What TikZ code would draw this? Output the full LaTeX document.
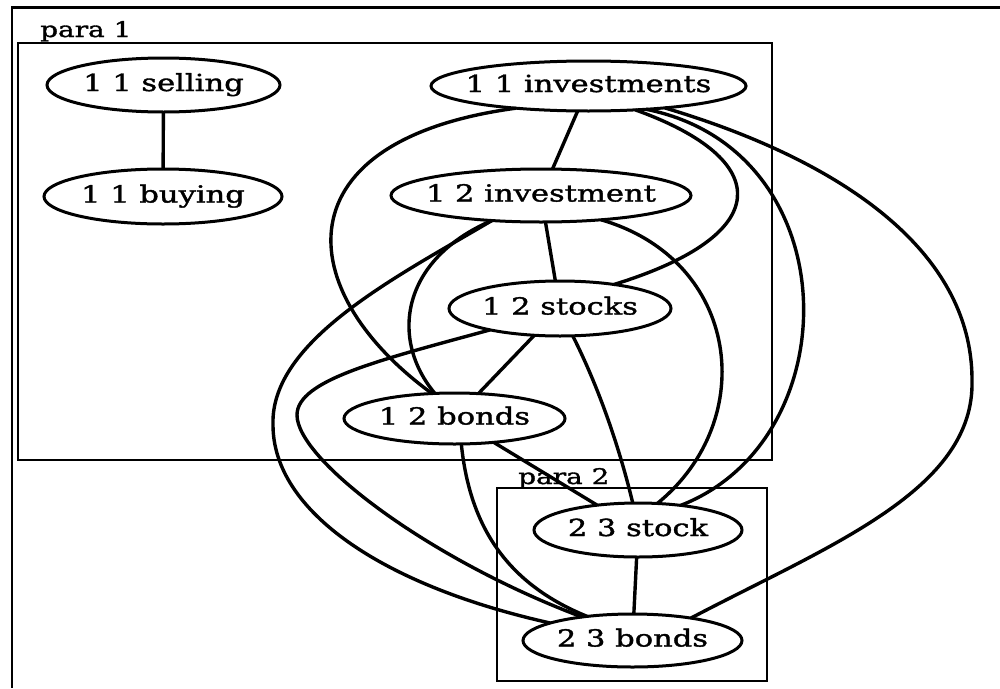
\documentclass[tikz,border=0pt]{standalone}
\usepackage{fontspec}
\usetikzlibrary{shapes.geometric}
\newfontfamily\graphfont[FakeStretch=1.3,FakeBold=1.5]{DejaVu Serif}
\newcommand\nodetext[1]{\makebox[0pt]{#1}}

\begin{document}
\begin{tikzpicture}[x=1pt,y=-1pt,
  vtx/.style={ellipse, draw, line width=3pt, inner sep=0pt, outer sep=0pt,
    text height=17pt, text depth=5pt,
    font=\graphfont\fontsize{23.5}{28}\selectfont},
  link/.style={line width=3.4pt},
  cluster/.style={draw, line width=2.5pt},
  clabel/.style={anchor=base west, inner sep=0pt,
    font=\graphfont\fontsize{21.5}{26}\selectfont}]
\useasboundingbox (0,0) rectangle (1000,688);

% page frame
\draw[line width=2.2pt] (1000,7.5) -- (12,7.5) -- (12,688);

% clusters
\draw[cluster] (18,43) rectangle (772,460);
\node[clabel] (lab1) at (40,37) {para 1};
\draw[cluster] (497,488) rectangle (767,681);
\node[clabel] (lab2) at (518,484) {para 2};

% nodes
\node[vtx, minimum width=233, minimum height=54] (sell) at (163.5,85) {\nodetext{1 1 selling}};
\node[vtx, minimum width=238, minimum height=55] (buy) at (163,196.5) {\nodetext{1 1 buying}};
\node[vtx, minimum width=315, minimum height=50] (inv) at (588.5,86) {\nodetext{1 1 investments}};
\node[vtx, minimum width=300, minimum height=53] (inv2) at (541,195.5) {\nodetext{1 2 investment}};
\node[vtx, minimum width=222, minimum height=55] (stocks) at (560,308.5) {\nodetext{1 2 stocks}};
\node[vtx, minimum width=221, minimum height=51] (bonds) at (454.5,418.5) {\nodetext{1 2 bonds}};
\node[vtx, minimum width=208, minimum height=54] (stock23) at (638,530) {\nodetext{2 3 stock}};
\node[vtx, minimum width=219, minimum height=53] (bonds23) at (632.5,640.5) {\nodetext{2 3 bonds}};

% straight edges
\draw[link] (sell) -- (buy);
\draw[link] (inv) -- (inv2);
\draw[link] (inv2) -- (stocks);
\draw[link] (stocks) -- (bonds);
\draw[link] (stock23) -- (bonds23);
\draw[link] (bonds) -- (stock23);

% curved edges
\draw[link] (inv.-163) .. controls (280,140) and (290,290) .. (bonds.132);
\draw[link] (inv.-27) .. controls (775,160) and (775,235) .. (stocks.24);
\draw[link] (inv.-22) .. controls (850,150) and (850,440) .. (stock23.30);
\draw[link] (inv.-16) .. controls (840,160) and (972,250) .. (972,380)
  .. controls (975,490) and (830,545) .. (bonds23.21);
\draw[link] (inv2.-153) .. controls (400,260) and (390,340) .. (bonds.128);
\draw[link] (inv2.-153) .. controls (400,275) and (270,340) .. (273,425)
  .. controls (273,510) and (380,585) .. (bonds23.168);
\draw[link] (inv2.-22) .. controls (740,260) and (760,420) .. (stock23.54);
\draw[link] (stocks.-163) .. controls (380,360) and (297,380) .. (297,415)
  .. controls (297,460) and (430,560) .. (bonds23.155);
\draw[link] (stocks.-65) .. controls (600,390) and (620,450) .. (stock23.101);
\draw[link] (bonds.-75) .. controls (470,530) and (510,585) .. (bonds23.152);
\end{tikzpicture}
\end{document}
